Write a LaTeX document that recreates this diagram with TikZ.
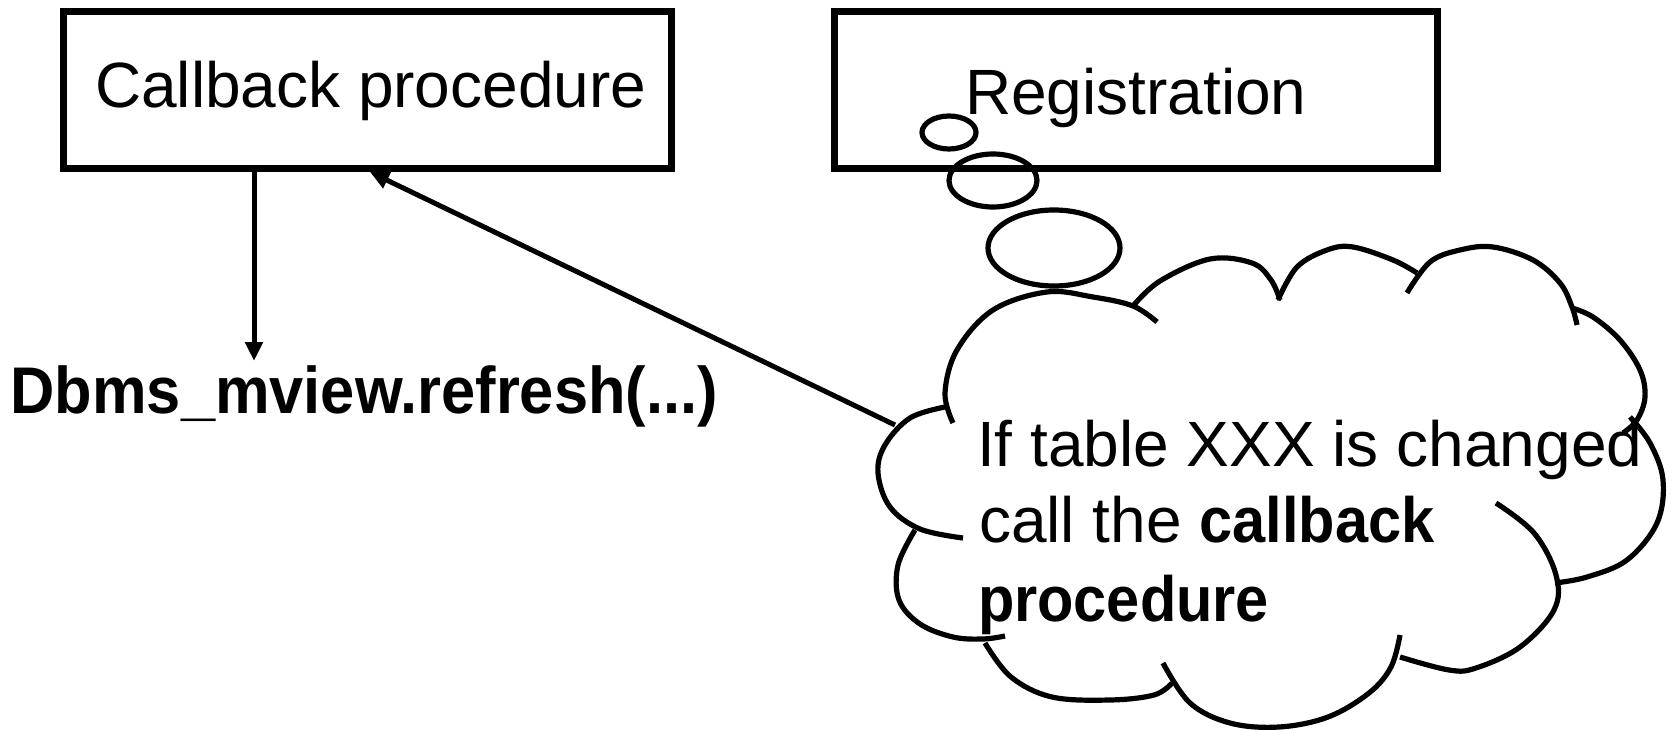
\documentclass[tikz,border=0pt]{standalone}
\usepackage{fontspec}
\setmainfont{Liberation Sans}
\newfontfamily\condsans[FakeStretch=0.93]{Liberation Sans}
\usetikzlibrary{arrows.meta}
\begin{document}
\begin{tikzpicture}[x=1pt,y=-1pt,
  boxnode/.style={draw,line width=7pt,inner sep=0pt,outer sep=0pt},
  txt/.style={inner sep=0pt,outer sep=0pt,anchor=base west,font=\fontsize{64}{76}\selectfont},
  cloudtxt/.style={inner sep=0pt,outer sep=0pt,anchor=base west,font=\fontsize{64}{76}\selectfont},
  arr/.style={line width=5pt,-{Triangle[length=19pt,width=17pt]}},
  cloudline/.style={line width=5.2pt,smooth,tension=0.6},
  bubble/.style={line width=5.2pt}]
\useasboundingbox (0,0) rectangle (1674,730);
% boxes
\node[boxnode,minimum width=608pt,minimum height=157pt] (box1) at (367,90.5) {};
\node[boxnode,minimum width=603pt,minimum height=157pt] (box2) at (1135.5,90.5) {};
\node[txt] (cbtext) at (95,108) {Callback procedure};
\node[txt] (regtext) at (965,115) {Registration};
% Dbms text
\node[inner sep=0pt,outer sep=0pt,anchor=base west,font=\fontsize{66}{78}\selectfont\condsans\bfseries] (dbms) at (10.5,413.5) {Dbms\_mview.refresh(...)};
% thought bubbles
\draw[bubble] (949,132.5) ellipse [x radius=27pt, y radius=16.5pt];
\draw[bubble] (993,180.5) ellipse [x radius=44pt, y radius=26.5pt];
\draw[bubble] (1054,248) ellipse [x radius=66pt, y radius=38pt];
% cloud lobes
\draw[cloudline] plot coordinates {(953,423) (945,393) (957,350) (993,310) (1047,292) (1093,297) (1133,306) (1157,322)};
\draw[cloudline] plot coordinates {(1133,306) (1160,281) (1210,259) (1252,263) (1271,280) (1280,300)};
\draw[cloudline] plot coordinates {(1278,300) (1297,267) (1327,250) (1353,247) (1393,260) (1417,273)};
\draw[cloudline] plot coordinates {(1407,293) (1430,262) (1460,250) (1493,247) (1533,260) (1560,283) (1572,307) (1577,325)};
\draw[cloudline] plot coordinates {(1572,308) (1593,317) (1620,340) (1640,370) (1645,397) (1637,420) (1623,433)};
\draw[cloudline] plot coordinates {(1630,417) (1650,443) (1663,480) (1657,523) (1627,560) (1587,577) (1555,583)};
\draw[cloudline] plot coordinates {(1496,503) (1534,533) (1556,575) (1554,610) (1520,647) (1476,668) (1449,670) (1400,657)};
\draw[cloudline] plot coordinates {(1400,635) (1391,667) (1369,693) (1328,717) (1279,727) (1230,723) (1190,703) (1163,663)};
\draw[cloudline] plot coordinates {(1172,683) (1154,695) (1110,700) (1052,697) (1011,677) (985,643)};
\draw[cloudline] plot coordinates {(915,530) (898,565) (899,600) (920,624) (953,637) (983,639) (1005,636)};
\draw[cloudline] plot coordinates {(945,407) (910,418) (885,445) (878,473) (890,507) (920,529) (963,538)};
% cloud text
\node[cloudtxt] (cl1) at (977,466.7) {If table XXX is changed};
\node[cloudtxt] (cl2) at (979,542) {call the {\condsans\bfseries callback}};
\node[cloudtxt] (cl3) at (978,621) {\condsans\bfseries procedure};
% connectors
\coordinate (tipA) at (254,361);
\coordinate (cloudL) at (895,425);
\coordinate (tipB) at (370,172);
\draw[arr] (box1.south -| tipA) -- (tipA);
\draw[arr] (cloudL) -- (tipB);
\end{tikzpicture}
\end{document}
